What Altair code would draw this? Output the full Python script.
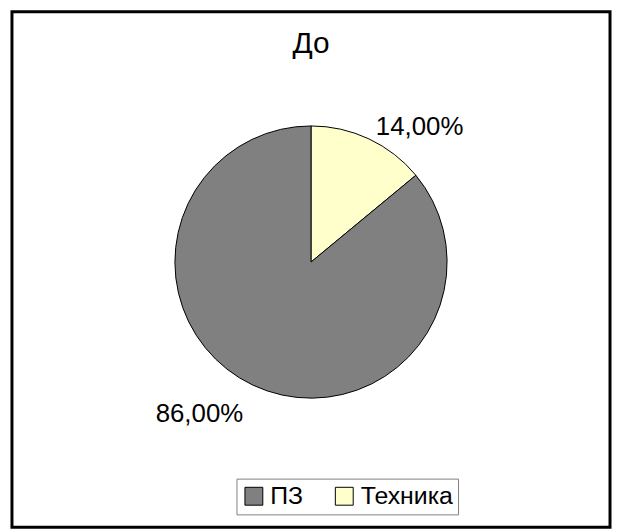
import altair as alt
import pandas as pd

categories = ["Техника", "ПЗ"]
values = [14.0, 86.0]
labels = ["14,00%", "86,00%"]
order = [1, 2]
legend_order = ["ПЗ", "Техника"]
colors = ["#808080", "#FFFFCC"]
title_text = "До"

df = pd.DataFrame({"cat": categories, "val": values, "lab": labels, "ord": order})

FONT = "Liberation Sans"
CX, CY, R = 301, 252, 137

base = alt.Chart(df).encode(
    theta=alt.Theta("val:Q", stack=True),
    order=alt.Order("ord:Q"),
)

color = alt.Color(
    "cat:N",
    scale=alt.Scale(domain=legend_order, range=colors),
    legend=alt.Legend(
        title=None,
        orient="none",
        legendX=226,
        legendY=470,
        direction="horizontal",
        symbolType="square",
        symbolSize=324,
        symbolStrokeColor="black",
        symbolStrokeWidth=1,
        symbolOpacity=1,
        labelFontSize=25,
        labelFont=FONT,
        labelColor="black",
        labelOffset=4,
        columnPadding=28,
        padding=5,
        strokeColor="#808080",
        fillColor="white",
    ),
)

pie = base.mark_arc(radius=R, stroke="black", strokeWidth=1, opacity=1).encode(
    color=color,
    x=alt.value(CX),
    y=alt.value(CY),
)

lab_t = base.mark_text(
    radius=165, align="left", baseline="top", fontSize=26, font=FONT, color="black", dx=-5
).encode(
    text=alt.condition(alt.datum.cat == "Техника", "lab:N", alt.value("")),
    x=alt.value(CX),
    y=alt.value(CY),
)

lab_p = base.mark_text(
    radius=165, align="right", baseline="middle", fontSize=26, font=FONT, color="black", dx=2, dy=4
).encode(
    text=alt.condition(alt.datum.cat == "ПЗ", "lab:N", alt.value("")),
    x=alt.value(CX),
    y=alt.value(CY),
)

title = alt.Chart(pd.DataFrame({"t": [title_text]})).mark_text(
    fontSize=30, font=FONT, color="black", baseline="middle"
).encode(text="t:N", x=alt.value(301), y=alt.value(33))

chart = (
    alt.layer(pie, lab_t, lab_p, title)
    .properties(
        width=602,
        height=519,
        padding={"left": 4, "top": 2, "right": 2, "bottom": 2},
        autosize=alt.AutoSizeParams(type="none"),
    )
    .configure_view(stroke="black", strokeWidth=3)
)

chart.save("out.html", embed_options={"renderer": "svg", "actions": False})
